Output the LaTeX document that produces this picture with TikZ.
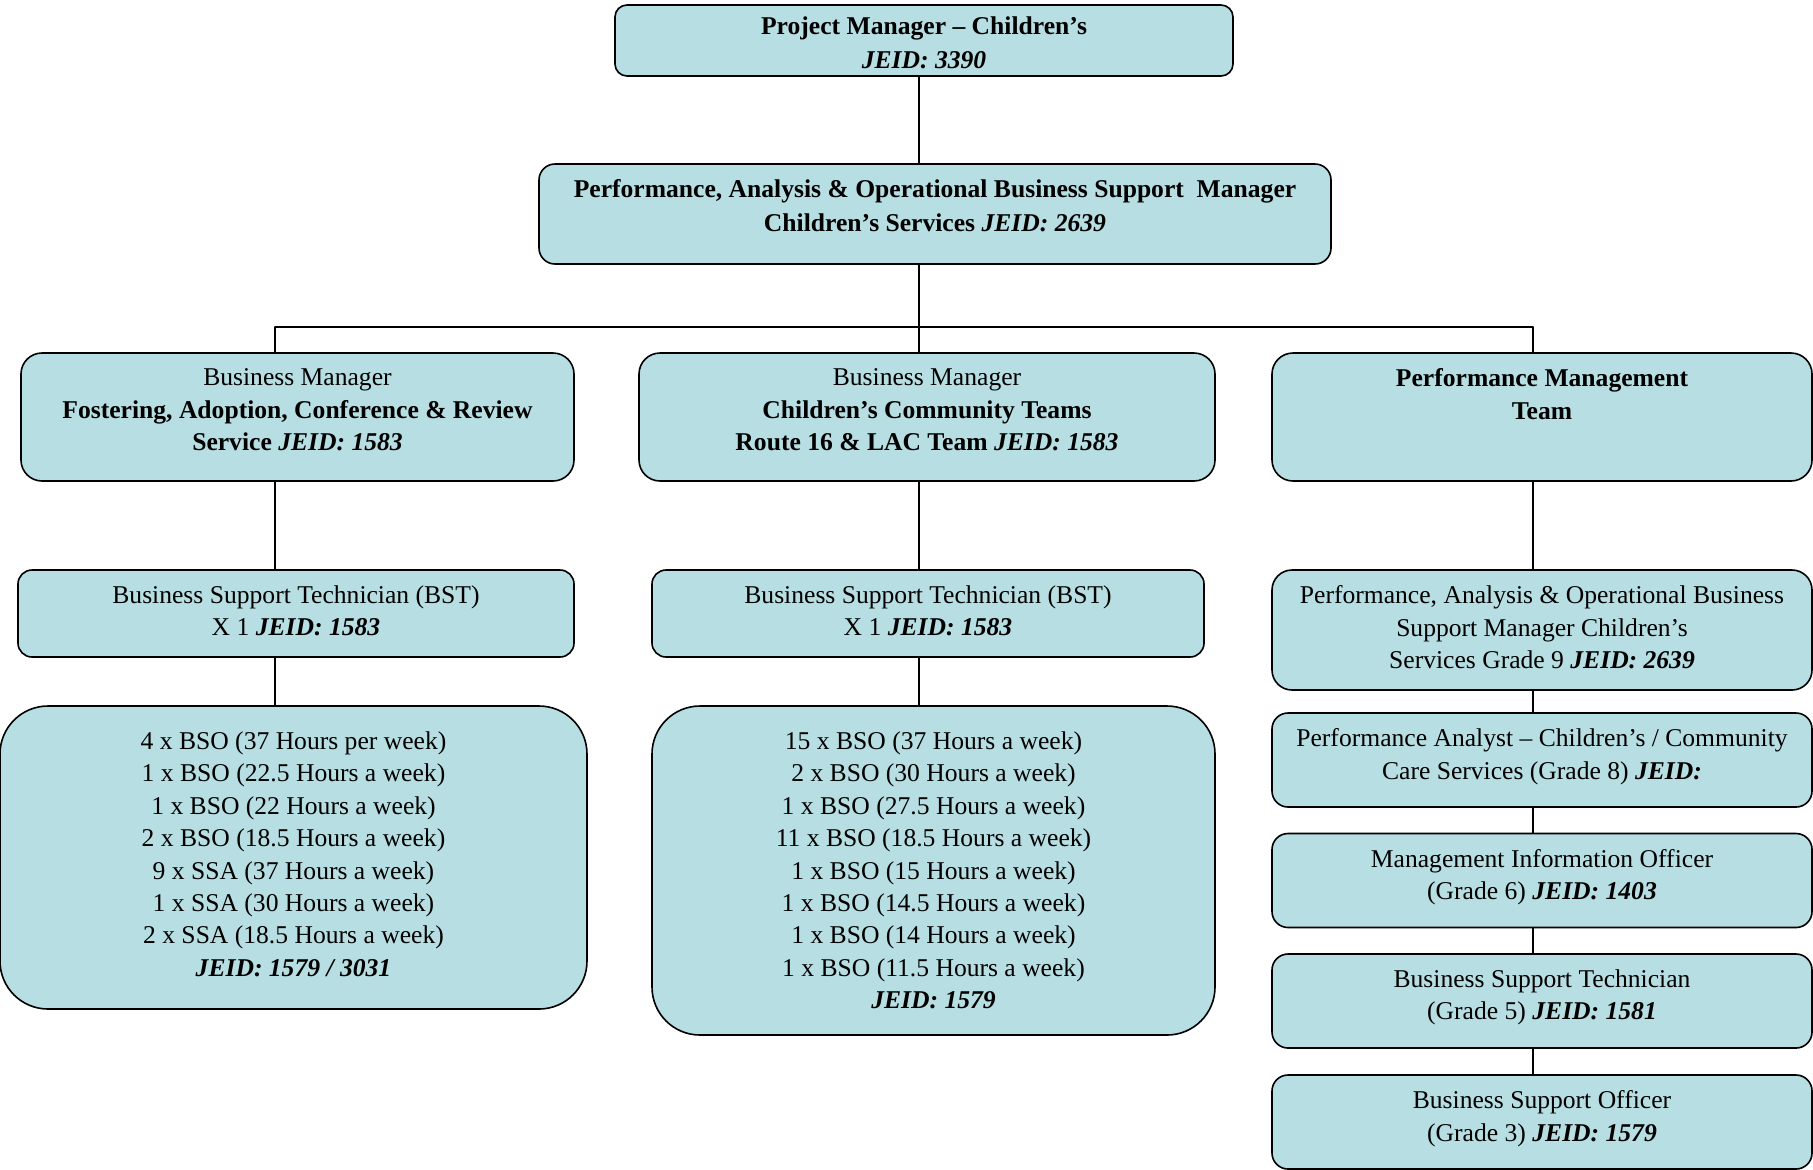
\documentclass[tikz,border=0pt]{standalone}
\usepackage{fontspec}
\setmainfont{Liberation Serif}
\definecolor{cardfill}{HTML}{B7DEE2}

\begin{document}
\begin{tikzpicture}[x=1pt,y=-1pt,line width=0.6pt,line cap=round,line join=round,
  card/.style={draw,fill=cardfill,line width=0.8pt,inner sep=0pt},
  txt/.style={anchor=north,align=center,inner sep=0pt,font=\fontsize{12.8}{16.2}\selectfont}]
\useasboundingbox (0,0) rectangle (906.5,584.5);
% top of the chart
\node[card,minimum width=309pt,minimum height=35.5pt,rounded corners=6pt] (pm) at (462,20.25) {};
\node[txt,font=\fontsize{12.8}{17}\selectfont] (pmtext) at ([yshift=-6pt]pm.north)
  {\textbf{Project Manager -- Children's}\\\textbf{\textit{JEID: 3390}}};
\node[card,minimum width=396pt,minimum height=50pt,rounded corners=8pt] (pamgr) at (467.5,107) {};
\node[txt,font=\fontsize{12.8}{17}\selectfont] (pamgrtext) at ([yshift=-8pt]pamgr.north)
  {\textbf{Performance, Analysis \& Operational Business Support\ \ Manager}\\
   \textbf{Children's Services \textit{JEID: 2639}}};
% bus
\coordinate (busL) at (137.5,163.5);
\coordinate (busM) at (459.5,163.5);
\coordinate (busR) at (766.5,163.5);
% business managers
\node[card,minimum width=276.5pt,minimum height=64pt,rounded corners=10.5pt] (fam) at (148.75,208.5) {};
\node[txt] (famtext) at ([yshift=-8pt]fam.north)
  {Business Manager\\\textbf{Fostering, Adoption, Conference \& Review}\\
   \textbf{Service \textit{JEID: 1583}}};
\node[card,minimum width=288pt,minimum height=64pt,rounded corners=10.5pt] (cct) at (463.5,208.5) {};
\node[txt] (ccttext) at ([yshift=-8pt]cct.north)
  {Business Manager\\\textbf{Children's Community Teams}\\
   \textbf{Route 16 \& LAC Team \textit{JEID: 1583}}};
\node[card,minimum width=270pt,minimum height=64pt,rounded corners=10.5pt] (pmt) at (771,208.5) {};
\node[txt] (pmttext) at ([yshift=-8pt]pmt.north)
  {\textbf{Performance Management}\\\textbf{Team}};
% technicians
\node[card,minimum width=278pt,minimum height=43.5pt,rounded corners=7pt] (bstl) at (148,306.75) {};
\node[txt] (bstltext) at ([yshift=-8pt]bstl.north)
  {Business Support Technician (BST)\\X 1 \textbf{\textit{JEID: 1583}}};
\node[card,minimum width=276pt,minimum height=43.5pt,rounded corners=7pt] (bstm) at (464,306.75) {};
\node[txt] (bstmtext) at ([yshift=-8pt]bstm.north)
  {Business Support Technician (BST)\\X 1 \textbf{\textit{JEID: 1583}}};
% officers
\node[card,minimum width=293.5pt,minimum height=151.5pt,rounded corners=24pt] (bsol) at (146.75,428.75) {};
\node[txt] (bsoltext) at ([yshift=-13pt]bsol.north)
  {4 x BSO (37 Hours per week)\\1 x BSO (22.5 Hours a week)\\1 x BSO (22 Hours a week)\\
   2 x BSO (18.5 Hours a week)\\9 x SSA (37 Hours a week)\\1 x SSA (30 Hours a week)\\
   2 x SSA (18.5 Hours a week)\\\textbf{\textit{JEID: 1579 / 3031}}};
\node[card,minimum width=281.5pt,minimum height=164.5pt,rounded corners=24pt] (bsom) at (466.75,435.25) {};
\node[txt] (bsomtext) at ([yshift=-13pt]bsom.north)
  {15 x BSO (37 Hours a week)\\2 x BSO (30 Hours a week)\\1 x BSO (27.5 Hours a week)\\
   11 x BSO (18.5 Hours a week)\\1 x BSO (15 Hours a week)\\1 x BSO (14.5 Hours a week)\\
   1 x BSO (14 Hours a week)\\1 x BSO (11.5 Hours a week)\\\textbf{\textit{JEID: 1579}}};
% performance team column
\node[card,minimum width=270pt,minimum height=60pt,rounded corners=10pt] (r1) at (771,315) {};
\node[txt] (r1text) at ([yshift=-8pt]r1.north)
  {Performance, Analysis \& Operational Business\\Support Manager Children's\\
   Services Grade 9 \textbf{\textit{JEID: 2639}}};
\node[card,minimum width=270pt,minimum height=47pt,rounded corners=8pt] (r2) at (771,380) {};
\node[txt] (r2text) at ([yshift=-8pt]r2.north)
  {Performance Analyst -- Children's / Community\\Care Services (Grade 8) \textbf{\textit{JEID:}}};
\node[card,minimum width=270pt,minimum height=47pt,rounded corners=8pt] (r3) at (771,440.25) {};
\node[txt] (r3text) at ([yshift=-8pt]r3.north)
  {Management Information Officer\\(Grade 6) \textbf{\textit{JEID: 1403}}};
\node[card,minimum width=270pt,minimum height=47pt,rounded corners=8pt] (r4) at (771,500.5) {};
\node[txt] (r4text) at ([yshift=-8pt]r4.north)
  {Business Support Technician\\(Grade 5) \textbf{\textit{JEID: 1581}}};
\node[card,minimum width=270pt,minimum height=47pt,rounded corners=8pt] (r5) at (771,561) {};
\node[txt] (r5text) at ([yshift=-8pt]r5.north)
  {Business Support Officer\\(Grade 3) \textbf{\textit{JEID: 1579}}};
% connectors
\draw (busL) -- (busR);
\draw (pm.south -| busM) -- (pamgr.north -| busM);
\draw (pamgr.south -| busM) -- (busM);
\draw (busL) -- (fam.north -| busL);
\draw (busM) -- (cct.north -| busM);
\draw (busR) -- (pmt.north -| busR);
\draw (fam.south -| busL) -- (bstl.north -| busL)
      (bstl.south -| busL) -- (bsol.north -| busL);
\draw (cct.south -| busM) -- (bstm.north -| busM)
      (bstm.south -| busM) -- (bsom.north -| busM);
\foreach \a/\b in {pmt/r1,r1/r2,r2/r3,r3/r4,r4/r5}
  \draw (\a.south -| busR) -- (\b.north -| busR);
\end{tikzpicture}
\end{document}
